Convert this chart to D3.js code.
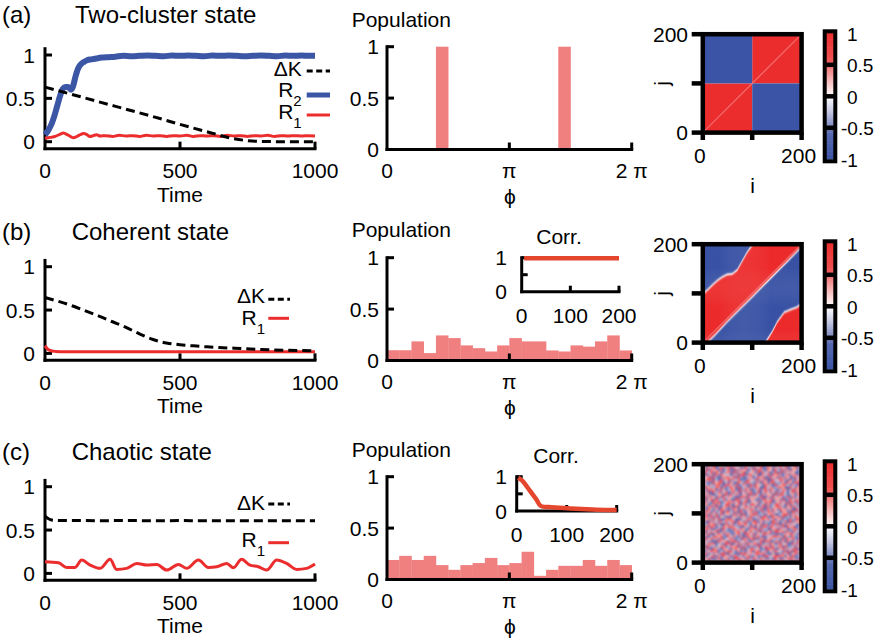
<!DOCTYPE html>
<html>
<head>
<meta charset="utf-8">
<script src="https://cdn.jsdelivr.net/npm/d3@7"></script>
<style>
  html, body { margin: 0; padding: 0; background: #fff; }
  svg { display: block; }
</style>
</head>
<body>
<script>
// ---------------- data ----------------
const rowTags = ["(a)", "(b)", "(c)"];
const rowTitles = ["Two-cluster state", "Coherent state", "Chaotic state"];

const timeTicks = [0, 500, 1000];
const orderTicks = [0, 0.5, 1];
const popTicks = [0, 0.5, 1];
const phaseTicks = [0, Math.PI, 2 * Math.PI];
const phaseTickLabels = ["0", "π", "2 π"];
const lagTicks = [0, 100, 200];
const corrTicks = [0, 0.5, 1];
const corrTickLabels = ["0", "", "1"];
const indexTicks = [0, 100, 200];
const indexTickLabels = ["0", "", "200"];
const colorTicks = [1, 0.5, 0, -0.5, -1];

// (a) two-cluster state: order parameters and mean coupling change
const timeR2A = [0,12,25,35,45,56,66,76,86,96,104,112,122,132,144,156,172,190,210,235,260,290,320,350,380,410,440,470,500,530,560,590,620,650,680,710,740,770,800,830,860,890,920,950,980,1000];
const r2A = [0.08,0.13,0.21,0.3,0.41,0.53,0.61,0.63,0.63,0.6,0.64,0.74,0.84,0.89,0.92,0.94,0.95,0.96,0.97,0.975,0.98,0.99,0.985,0.99,0.995,0.99,0.985,0.995,0.99,0.995,0.99,0.985,0.995,0.99,0.995,0.99,0.985,0.99,0.995,0.99,0.985,0.995,0.99,0.995,0.99,0.99];
const timeR1A = [0,20,37,55,68,86,105,118,130,142,154,166,179,191,204,225,250,275,300,325,350,375,400,425,450,475,500,525,550,575,600,625,650,675,700,725,750,775,800,825,850,875,900,925,950,975,1000];
const r1A = [0.04,0.05,0.06,0.085,0.1,0.075,0.045,0.06,0.08,0.095,0.085,0.06,0.07,0.08,0.065,0.07,0.06,0.075,0.065,0.07,0.06,0.075,0.065,0.07,0.06,0.07,0.065,0.075,0.06,0.07,0.065,0.07,0.06,0.075,0.065,0.07,0.06,0.07,0.065,0.075,0.06,0.07,0.065,0.07,0.065,0.07,0.065];
const timeDKA = [0,100,200,300,400,500,600,700,750,800,900,1000];
const dKA = [0.63,0.545,0.46,0.375,0.29,0.2,0.115,0.035,0.012,0.003,0,0];
const popA = [0,0,0,0,1,0.004,0,0,0,0,0,0,0,0,1,0.004,0,0,0,0];

// (b) coherent state
const timeDKB = [0,50,100,150,200,250,300,350,400,450,500,550,600,700,800,900,1000];
const dKB = [0.645,0.6,0.55,0.49,0.43,0.365,0.3,0.225,0.16,0.12,0.1,0.087,0.076,0.06,0.046,0.036,0.03];
const timeR1B = [0,8,16,25,40,70,200,400,600,800,1000];
const r1B = [0.09,0.055,0.037,0.028,0.023,0.02,0.02,0.02,0.02,0.02,0.02];
const popB = [0.1,0.1,0.186,0.072,0.244,0.218,0.147,0.12,0.088,0.147,0.218,0.186,0.186,0.098,0.088,0.147,0.135,0.186,0.244,0.098];
const lagB = [5, 200];
const corrB = [0.985, 0.985];

// (c) chaotic state
const timeDKC = [0,10,20,35,60,100,200,300,400,500,600,700,800,900,1000];
const dKC = [0.66,0.635,0.62,0.612,0.61,0.61,0.608,0.61,0.607,0.609,0.607,0.608,0.606,0.607,0.606];
const timeR1C = [0,50,80,111,136,167,204,241,265,302,340,377,414,451,494,525,568,605,636,673,698,728,759,790,821,858,895,932,969,1000];
const r1C = [0.135,0.123,0.069,0.069,0.154,0.096,0.058,0.162,0.046,0.058,0.115,0.096,0.104,0.038,0.104,0.058,0.154,0.069,0.077,0.115,0.065,0.162,0.096,0.077,0.038,0.154,0.115,0.046,0.058,0.108];
const popC = [0.19,0.23,0.19,0.23,0.14,0.094,0.14,0.16,0.21,0.14,0.16,0.27,0.036,0.094,0.133,0.133,0.19,0.133,0.19,0.14];
const lagC = [3,10,20,30,40,47,55,70,100,130,160,200];
const corrC = [0.97,0.9,0.72,0.52,0.32,0.16,0.12,0.11,0.08,0.06,0.04,0.03];

// coupling matrices
// (a) two blocks of same sign on the diagonal, opposite sign off the diagonal
const clusterBlocks = [
  { i0: 0,   i1: 100, j0: 0,   j1: 100, k: 1 },
  { i0: 100, i1: 200, j0: 100, j1: 200, k: 1 },
  { i0: 0,   i1: 100, j0: 100, j1: 200, k: -1 },
  { i0: 100, i1: 200, j0: 0,   j1: 100, k: -1 }
];
const clusterDiag = 0.5;
// (b) fronts separating the positive and negative bands (j as a function of i)
const bandUpperI = [0,10,20,30,40,50,60,70,80,90,100,110];
const bandUpperJ = [99,108,118,127,134,139,140,148,166,184,198,212];
const bandLowerI = [0,25,50,75,100,125,150,175,200];
const bandLowerJ = [-8,16,43,68,93,119,144,169,195];
const bandCornerI = [120,126,140,151,165,179,190,200];
const bandCornerJ = [-8,0,22,43,62,68,72,79];
const bandDiag = 0.5;
// (c) coarse 40x40 coupling map, top row = j near 200, one digit per cell
const chaoticLevels = [-0.72,-0.62,-0.52,-0.42,-0.3,0.3,0.42,0.52,0.62,0.72];
const chaoticRows = [
  "8362917450283619475026391847205938164720",
  "5174803926718452093617480295163847025916",
  "3928561704821937560482973165084293716504",
  "1748295036618274903552817460391827465013",
  "9036172854403618927735016482957304816629",
  "4581930267758193024613857029461738502947",
  "2697041835926470318549263701845962073158",
  "6320857914163085297432608517934260851792",
  "7415269308852713630928541763092587416309",
  "0953486172395081462739510846237950184267",
  "5287613940476218395024716839520476138950",
  "3610948257138490526713804952617384059267",
  "9472035618294730561829407356182974035168",
  "1836507294653018729465380172946503817249",
  "6059283471520983471652039847165290384761",
  "2741869035867481690354714869035847186093",
  "8503716249930571624895037162498350716429",
  "4168392057271904586350938172468631572940",
  "7294051863038517264961482073952957361084",
  "3850624917942708315617039486254065219738",
  "0617493825538261904789243057611479826350",
  "6938271540105638472934618720957280415963",
  "2573849106874102539602369584715614073289",
  "9106352748469075182378152340963048192657",
  "4385926017251387694059470613828172635409",
  "1729604385786421053920517938646390857124",
  "5862137094039748521669283401571745026938",
  "8047591263312694705843706158299582731640",
  "3691048527620583197481549762302036587419",
  "6214875930947316028516830245977509416238",
  "0958362714583140962790267158434172859306",
  "7432019658169825473035490872168260731495",
  "2586714309701493628568172439503945108627",
  "9173425860485907261323905861746718234059",
  "4820963175326751804974513096820593647812",
  "1359780426894062315706824715395428170963",
  "6704253981053219784649768320511384905726",
  "3047816295617834059225130974689760528134",
  "8592137046240986517386375214094025796318",
  "5216384907983501762410492658376873402951"
];
const chaoticDiag = 0.05;

// ---------------- styles & layout ----------------
const FONT = "'Liberation Sans', Arial, Helvetica, sans-serif";
const TICK_FS = 21, LABEL_FS = 21, TITLE_FS = 24, CB_FS = 19;
const RED = "#ec2d2e", BLUE = "#3c56a6", BAR = "#f08080", CORR = "#e5472e";
const leftRowY = [0, 211.7, 431.7];
const midRowY = [0, 211, 430];
const heatRowY = [0, 210, 430];
const titleBase = [22.7, 239.5, 460];
const titleX = [75, 71.7, 71.7];
const popBase = [26.7, 237.3, 457.3];

const heatColor = d3.scaleLinear()
  .domain([-1, -0.6, -0.25, 0, 0.25, 0.6, 1])
  .range(["#3b54a5", "#5568ae", "#c3c6e2", "#ffffff", "#f7bcbc", "#ef5050", "#ec2d2e"])
  .clamp(true);

const svg = d3.select("body").append("svg")
  .attr("width", 875).attr("height", 644)
  .style("font-family", FONT);
const defs = svg.append("defs");
// soft grain for the coarse map; region given in the panel's local units
defs.append("filter").attr("id", "grain")
  .attr("filterUnits", "userSpaceOnUse")
  .attr("x", 690).attr("y", 20).attr("width", 125).attr("height", 125)
  .append("feGaussianBlur").attr("stdDeviation", 0.9);

function text(g, x, y, s, size, anchor) {
  return g.append("text").attr("x", x).attr("y", y)
    .attr("font-size", size).attr("text-anchor", anchor || "start")
    .attr("fill", "#000").text(s);
}
function seg(g, x1, y1, x2, y2, w) {
  return g.append("line").attr("x1", x1).attr("y1", y1).attr("x2", x2).attr("y2", y2)
    .attr("stroke", "#000").attr("stroke-width", w).attr("stroke-linecap", "butt");
}

// ---------------- row titles ----------------
rowTags.forEach((t, r) => {
  text(svg, 2, titleBase[r], t, TITLE_FS);
  text(svg, titleX[r], titleBase[r], rowTitles[r], TITLE_FS);
});

// ---------------- time panels ----------------
function drawTimePanel(row, series, legend) {
  const g = svg.append("g").attr("transform", `translate(0,${leftRowY[row]})`);
  const x = d3.scaleLinear().domain([0, 1000]).range([45, 315]);
  const y = d3.scaleLinear().domain([0, 1]).range([141.7, 55]);
  const yLo = y(-0.08), yHi = y(1.09);

  // axes
  seg(g, x(0), yHi, x(0), yLo + 1.5, 3);
  seg(g, x(0) - 1.5, yLo, x(1000) + 1.5, yLo, 3);
  orderTicks.forEach(v => {
    seg(g, x(0), y(v), x(0) + 7, y(v), 3);
    text(g, 35, y(v) + 7.5, String(v), TICK_FS, "end");
  });
  timeTicks.forEach(t => {
    if (t > 0) seg(g, x(t), yLo, x(t), yLo - 7, 3);
    text(g, x(t), 178.3, String(t), TICK_FS, "middle");
  });
  text(g, 180, 201.7, "Time", LABEL_FS, "middle");

  // curves
  series.forEach(s => {
    const line = d3.line()
      .x((d, i) => x(s.t[i])).y(d => y(d))
      .curve(d3.curveMonotoneX);
    g.append("path").datum(s.v).attr("d", line)
      .attr("fill", "none").attr("stroke", s.color).attr("stroke-width", s.width)
      .attr("stroke-dasharray", s.dash || null)
      .attr("stroke-linejoin", "round");
  });

  // legend
  legend.forEach(it => {
    const t = g.append("text").attr("x", it.tx).attr("y", it.ty)
      .attr("font-size", LABEL_FS).attr("text-anchor", "end").attr("fill", "#000");
    t.append("tspan").text(it.label);
    if (it.sub) t.append("tspan").attr("dy", 9).attr("font-size", 15).text(it.sub);
    g.append("line").attr("x1", it.lx0).attr("x2", it.lx1).attr("y1", it.ly).attr("y2", it.ly)
      .attr("stroke", it.color).attr("stroke-width", it.width)
      .attr("stroke-dasharray", it.dash || null);
  });
}

drawTimePanel(0, [
  { t: timeR1A, v: r1A, color: RED, width: 3 },
  { t: timeR2A, v: r2A, color: BLUE, width: 6 },
  { t: timeDKA, v: dKA, color: "#000", width: 3, dash: "9,5" }
], [
  { label: "ΔK", tx: 301.7, ty: 76, lx0: 306.7, lx1: 330, ly: 71, color: "#000", width: 3, dash: "6,3.5" },
  { label: "R", sub: "2", tx: 301.7, ty: 96.7, lx0: 306.7, lx1: 330, ly: 95, color: BLUE, width: 5 },
  { label: "R", sub: "1", tx: 301.7, ty: 119.3, lx0: 306.7, lx1: 330, ly: 115, color: RED, width: 3 }
]);

drawTimePanel(1, [
  { t: timeR1B, v: r1B, color: RED, width: 3 },
  { t: timeDKB, v: dKB, color: "#000", width: 3, dash: "9,5" }
], [
  { label: "ΔK", tx: 265, ty: 91.6, lx0: 268.3, lx1: 290, ly: 87.6, color: "#000", width: 3, dash: "6,3.5" },
  { label: "R", sub: "1", tx: 265, ty: 113.3, lx0: 268.3, lx1: 289, ly: 106.6, color: RED, width: 3 }
]);

drawTimePanel(2, [
  { t: timeR1C, v: r1C, color: RED, width: 3 },
  { t: timeDKC, v: dKC, color: "#000", width: 3, dash: "9,5" }
], [
  { label: "ΔK", tx: 265, ty: 78.3, lx0: 268.3, lx1: 290, ly: 72.3, color: "#000", width: 3, dash: "6,3.5" },
  { label: "R", sub: "1", tx: 265, ty: 115, lx0: 268.3, lx1: 289, ly: 111, color: RED, width: 3 }
]);

// ---------------- phase histograms ----------------
function drawPopPanel(row, pop, inset) {
  const g = svg.append("g").attr("transform", `translate(0,${midRowY[row]})`);
  const x = d3.scaleLinear().domain([0, 2 * Math.PI]).range([387, 631.7]);
  const y = d3.scaleLinear().domain([0, 1]).range([149.5, 46.7]);
  const binW = 2 * Math.PI / pop.length;

  g.selectAll("rect.bar").data(pop).join("rect").attr("class", "bar")
    .attr("x", (d, i) => x(i * binW))
    .attr("width", x(binW) - x(0) + 0.3)
    .attr("y", d => y(d))
    .attr("height", d => y(0) - y(d))
    .attr("fill", BAR);

  seg(g, x(0), y(1) - 1.5, x(0), y(0) + 1.5, 3);
  seg(g, x(0) - 1.5, y(0), x(2 * Math.PI) + 1.5, y(0), 3);
  popTicks.forEach(v => {
    if (v > 0) seg(g, x(0), y(v), x(0) + 7, y(v), 3);
    text(g, 379, y(v) + 7.5, String(v), TICK_FS, "end");
  });
  phaseTicks.forEach((p, i) => {
    if (p > 0) seg(g, x(p), y(0), x(p), y(0) - 7, 3);
    text(g, x(p), 178.3, phaseTickLabels[i], TICK_FS, "middle");
  });
  text(g, 510, 204, "ϕ", LABEL_FS, "middle");
  text(g, 351.7, popBase[row] - midRowY[row], "Population", LABEL_FS);

  if (inset) {
    const ix = d3.scaleLinear().domain([0, 200]).range([inset.x0, inset.x1]);
    const iy = d3.scaleLinear().domain([0, 1]).range([inset.y0, inset.y1]);
    seg(g, ix(0), iy(1) - 1.5, ix(0), iy(0) + 1.5, 3);
    seg(g, ix(0) - 1.5, iy(0), ix(200) + 1.5, iy(0), 3);
    corrTicks.forEach((v, i) => {
      if (v > 0) seg(g, ix(0), iy(v), ix(0) + 6, iy(v), 3);
      if (corrTickLabels[i]) text(g, inset.lx, iy(v) + 7.5, corrTickLabels[i], TICK_FS, "end");
    });
    lagTicks.forEach(t => {
      if (t > 0) seg(g, ix(t), iy(0), ix(t), iy(0) - 6, 3);
      text(g, ix(t), 111.5, String(t), TICK_FS, "middle");
    });
    text(g, inset.cx, 33.3, "Corr.", LABEL_FS, "middle");
    const line = d3.line().x((d, i) => ix(inset.lag[i])).y(d => iy(d)).curve(d3.curveMonotoneX);
    g.append("path").datum(inset.corr).attr("d", line)
      .attr("fill", "none").attr("stroke", CORR).attr("stroke-width", 4.5)
      .attr("stroke-linejoin", "round");
  }
}

drawPopPanel(0, popA, null);
drawPopPanel(1, popB, { lag: lagB, corr: corrB, x0: 521.7, x1: 619, y0: 80.7, y1: 46.7, lx: 507, cx: 559 });
drawPopPanel(2, popC, { lag: lagC, corr: corrC, x0: 516.7, x1: 616.7, y0: 81, y1: 46.7, lx: 507, cx: 556 });

// ---------------- coupling matrices ----------------
function drawHeat(row, paintCells) {
  const hx = d3.scaleLinear().domain([0, 200]).range([702.8, 801.6]);
  const hy = d3.scaleLinear().domain([0, 200]).range([132.6, 34.2]);

  const clipId = "heatclip" + row;
  defs.append("clipPath").attr("id", clipId).append("rect")
    .attr("x", hx(0)).attr("y", hy(200) + heatRowY[row])
    .attr("width", hx(200) - hx(0)).attr("height", hy(0) - hy(200));
  const holder = svg.append("g").attr("clip-path", `url(#${clipId})`)
    .append("g").attr("transform", `translate(0,${heatRowY[row]})`);
  paintCells(holder, hx, hy);

  const g = svg.append("g").attr("transform", `translate(0,${heatRowY[row]})`);
  g.append("rect")
    .attr("x", hx(0)).attr("y", hy(200))
    .attr("width", hx(200) - hx(0)).attr("height", hy(0) - hy(200))
    .attr("fill", "none").attr("stroke", "#000").attr("stroke-width", 4.5);
  indexTicks.forEach((v, i) => {
    seg(g, hx(0), hy(v), 691.7, hy(v), 4.5);
    seg(g, hx(v), hy(0), hx(v), 140, 4.5);
    if (indexTickLabels[i]) {
      text(g, 688, hy(v) + 7.5, indexTickLabels[i], TICK_FS, "end");
      text(g, hx(v) - 3, 163.3, indexTickLabels[i], TICK_FS, "middle");
    }
  });
  text(g, 752.7, 192.7, "i", LABEL_FS, "middle");
  g.append("text").attr("transform", "translate(669,83.3) rotate(-90)")
    .attr("font-size", LABEL_FS).attr("text-anchor", "middle").text("j");

  // colour bar
  const cb = d3.scaleLinear().domain([-1, 1]).range([159.3, 33.3]);
  const steps = d3.range(-1, 1, 0.025);
  g.selectAll("rect.cb").data(steps).join("rect").attr("class", "cb")
    .attr("x", 826).attr("width", 8)
    .attr("y", d => cb(d + 0.025) - 0.3)
    .attr("height", cb(-1) - cb(-0.975) + 0.6)
    .attr("fill", d => heatColor(d + 0.0125));
  g.append("rect").attr("x", 824.7).attr("y", cb(1) - 2).attr("width", 10.6)
    .attr("height", cb(-1) - cb(1) + 4)
    .attr("fill", "none").attr("stroke", "#000").attr("stroke-width", 4);
  colorTicks.forEach(v => {
    if (Math.abs(v) < 1) seg(g, 824.7, cb(v), 835.3, cb(v), 4.5);
    text(g, v < 0 ? 841 : 847, cb(v) + 7.5, String(v), CB_FS, "start");
  });
}

function diagLine(g, hx, hy, k, w, op) {
  g.append("line")
    .attr("x1", hx(0)).attr("y1", hy(0)).attr("x2", hx(200)).attr("y2", hy(200))
    .attr("stroke", heatColor(k)).attr("stroke-width", w || 1.1)
    .attr("stroke-opacity", op == null ? 1 : op);
}

// (a)
drawHeat(0, (g, hx, hy) => {
  g.selectAll("rect").data(clusterBlocks).join("rect")
    .attr("x", d => hx(d.i0)).attr("y", d => hy(d.j1))
    .attr("width", d => hx(d.i1) - hx(d.i0)).attr("height", d => hy(d.j0) - hy(d.j1))
    .attr("fill", d => heatColor(d.k));
  diagLine(g, hx, hy, clusterDiag);
});

// (b)
const upperFront = d3.scaleLinear().domain(bandUpperI).range(bandUpperJ);
const lowerFront = d3.scaleLinear().domain(bandLowerI).range(bandLowerJ);
const cornerFront = d3.scaleLinear().domain(bandCornerI).range(bandCornerJ);
function bandValue(i, j) {
  const dU = upperFront(i) - j;
  const dL = j - lowerFront(i);
  const dC = cornerFront(i) - j;
  let s, d;
  if (dU < 0) { s = -1; d = -dU; }
  else if (dL >= 0) { s = 1; d = Math.min(dU, dL); }
  else if (dC < 0) { s = -1; d = Math.min(-dL, -dC); }
  else { s = 1; d = dC; }
  return s * Math.min(1, 0.1 + d / 7);
}
drawHeat(1, (g, hx, hy) => {
  const n = 100, step = 200 / n;
  const cells = [];
  for (let a = 0; a < n; a++)
    for (let b = 0; b < n; b++)
      cells.push({ i: a * step, j: b * step, v: bandValue(a * step + step / 2, b * step + step / 2) });
  g.selectAll("rect").data(cells).join("rect")
    .attr("x", d => hx(d.i)).attr("y", d => hy(d.j + step) - 0.2)
    .attr("width", hx(step) - hx(0) + 0.4).attr("height", hy(0) - hy(step) + 0.4)
    .attr("fill", d => heatColor(d.v));
  diagLine(g, hx, hy, bandDiag);
});

// (c)
drawHeat(2, (g, hx, hy) => {
  const n = chaoticRows.length, step = 200 / n;
  const cells = [];
  chaoticRows.forEach((rowStr, r) => {
    for (let c = 0; c < rowStr.length; c++)
      cells.push({ i: c * step, j: 200 - (r + 1) * step, v: chaoticLevels[+rowStr[c]] });
  });
  const tex = g.append("g").attr("filter", "url(#grain)");
  tex.selectAll("rect").data(cells).join("rect")
    .attr("x", d => hx(d.i)).attr("y", d => hy(d.j + step) - 0.2)
    .attr("width", hx(step) - hx(0) + 0.4).attr("height", hy(0) - hy(step) + 0.4)
    .attr("fill", d => heatColor(d.v));
  diagLine(tex, hx, hy, chaoticDiag, 1.0, 0.45);
});
</script>
</body>
</html>
